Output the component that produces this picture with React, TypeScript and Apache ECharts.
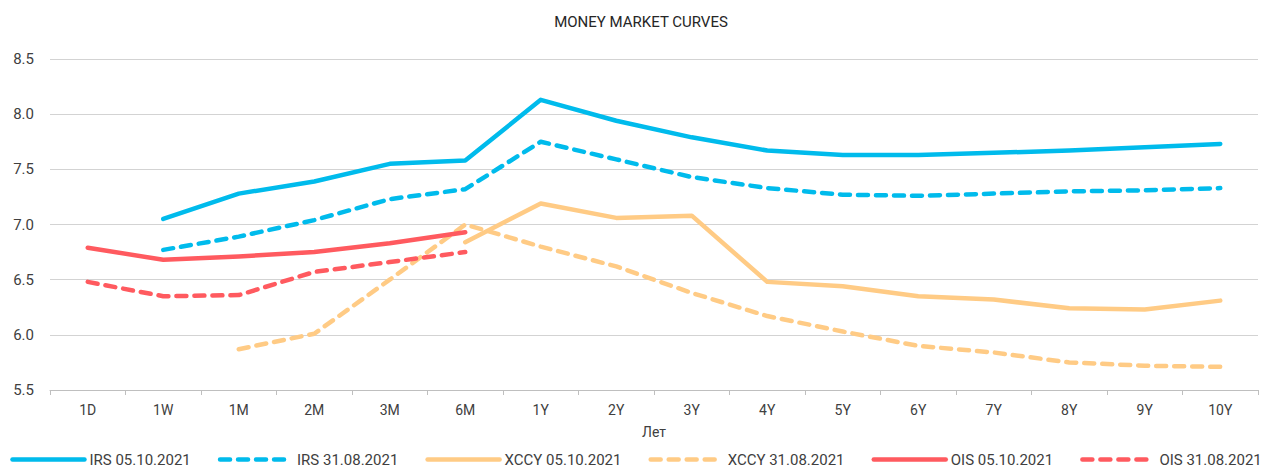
import React, { useEffect, useRef } from "react";
import * as echarts from "echarts";

const categories = ["1D", "1W", "1M", "2M", "3M", "6M", "1Y", "2Y", "3Y", "4Y", "5Y", "6Y", "7Y", "8Y", "9Y", "10Y"];

const irs0510: (number | null)[] = [null, 7.05, 7.28, 7.39, 7.55, 7.58, 8.13, 7.94, 7.79, 7.67, 7.63, 7.63, 7.65, 7.67, 7.70, 7.73];
const irs3108: (number | null)[] = [null, 6.77, 6.89, 7.04, 7.23, 7.32, 7.75, 7.59, 7.43, 7.33, 7.27, 7.26, 7.28, 7.30, 7.31, 7.33];
const xccy0510: (number | null)[] = [null, null, null, null, null, 6.84, 7.19, 7.06, 7.08, 6.48, 6.44, 6.35, 6.32, 6.24, 6.23, 6.31];
const xccy3108: (number | null)[] = [null, null, 5.87, 6.01, 6.5, 7.0, 6.8, 6.62, 6.38, 6.17, 6.03, 5.9, 5.84, 5.75, 5.72, 5.71];
const ois0510: (number | null)[] = [6.79, 6.68, 6.71, 6.75, 6.83, 6.93, null, null, null, null, null, null, null, null, null, null];
const ois3108: (number | null)[] = [6.48, 6.35, 6.36, 6.57, 6.66, 6.75, null, null, null, null, null, null, null, null, null, null];

const BLUE = "#00BBEC";
const ORANGE = "#FFCB85";
const RED = "#FF5A5F";

const FONT = "Roboto";

function mk(name: string, data: (number | null)[], color: string, dashed: boolean) {
  return {
    name,
    type: "line",
    data,
    symbol: "none",
    smooth: false,
    connectNulls: false,
    lineStyle: {
      color,
      width: 4.5,
      type: dashed ? [10, 8] : "solid",
      cap: "round",
      join: "round",
    },
    itemStyle: { color },
  };
}

export default function App() {
  const ref = useRef<HTMLDivElement>(null);
  useEffect(() => {
    if (!ref.current) return;
    const chart = echarts.init(ref.current, undefined, { renderer: "svg" });
    chart.setOption({
      animation: false,
      backgroundColor: "#ffffff",
      title: {
        text: "MONEY MARKET CURVES",
        left: 636,
        textAlign: "center",
        top: 9,
        textStyle: { fontFamily: FONT, fontSize: 15, fontWeight: "normal", color: "#262626" },
      },
      legend: {
        bottom: 4,
        left: "center",
        width: 1266,
        padding: 0,
        itemWidth: 72,
        itemHeight: 8,
        itemGap: 27,
        itemStyle: { opacity: 0 },
        lineStyle: { width: 4.5 },
        textStyle: { fontFamily: FONT, fontSize: 15, color: "#404040" },
        data: ["IRS 05.10.2021", "IRS 31.08.2021", "XCCY 05.10.2021", "XCCY 31.08.2021", "OIS 05.10.2021", "OIS 31.08.2021"],
      },
      grid: { left: 50, right: 14, top: 59, bottom: 81, containLabel: false },
      xAxis: {
        type: "category",
        data: categories,
        boundaryGap: true,
        name: "Лет",
        nameLocation: "middle",
        nameGap: 35,
        nameTextStyle: { fontFamily: FONT, fontSize: 14, color: "#404040" },
        axisLine: { lineStyle: { color: "#bfbfbf", width: 1 } },
        axisTick: { show: true, length: 5, lineStyle: { color: "#bfbfbf" } },
        axisLabel: { fontFamily: FONT, fontSize: 14, color: "#404040", margin: 13 },
      },
      yAxis: {
        type: "value",
        min: 5.5,
        max: 8.5,
        interval: 0.5,
        axisLine: { show: false },
        axisTick: { show: false },
        splitLine: { lineStyle: { color: "#d3d3d3", width: 1 } },
        axisLabel: {
          fontFamily: FONT,
          fontSize: 15,
          color: "#404040",
          margin: 16,
          formatter: (v: number) => v.toFixed(1),
        },
      },
      series: [
        mk("IRS 05.10.2021", irs0510, BLUE, false),
        mk("IRS 31.08.2021", irs3108, BLUE, true),
        mk("XCCY 05.10.2021", xccy0510, ORANGE, false),
        mk("XCCY 31.08.2021", xccy3108, ORANGE, true),
        mk("OIS 05.10.2021", ois0510, RED, false),
        mk("OIS 31.08.2021", ois3108, RED, true),
      ],
    });
    return () => chart.dispose();
  }, []);
  return <div ref={ref} style={{ width: 1272, height: 471, position: "absolute", left: 0, top: 0 }} />;
}
